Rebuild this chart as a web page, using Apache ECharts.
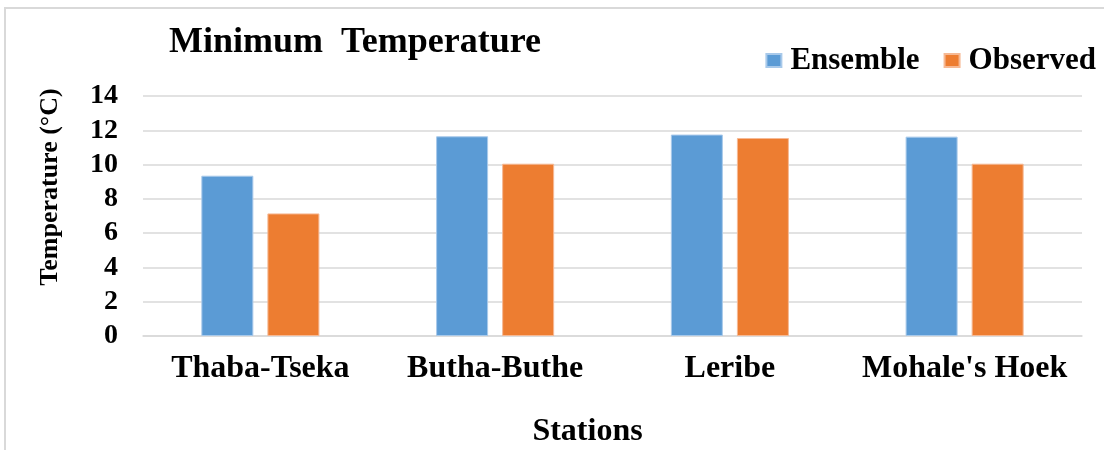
<!DOCTYPE html>
<html>
<head>
<meta charset="utf-8">
<script src="https://cdn.jsdelivr.net/npm/echarts@6/dist/echarts.min.js"></script>
<style>
html,body{margin:0;padding:0;background:#fff;}
#chart{width:1104px;height:450px;}
</style>
</head>
<body>
<div id="chart"></div>
<script>
const stations = ["Thaba-Tseka", "Butha-Buthe", "Leribe", "Mohale's Hoek"];
const ensemble = [9.35, 11.65, 11.75, 11.63];
const observed = [7.15, 10.05, 11.55, 10.05];
const yTicks = [0, 2, 4, 6, 8, 10, 12, 14];

const FONT = '"Liberation Serif", "Times New Roman", serif';
const chart = echarts.init(document.getElementById('chart'));
chart.setOption({
  animation: false,
  backgroundColor: '#ffffff',
  textStyle: { fontFamily: FONT },
  graphic: [{
    type: 'rect', silent: true, z: -1,
    shape: { x: 5, y: 8, width: 1300, height: 700 },
    style: { fill: 'none', stroke: '#d9d9d9', lineWidth: 2 }
  }],
  title: {
    text: 'Minimum  Temperature',
    left: 164, top: 20,
    textStyle: { fontFamily: FONT, fontWeight: 'bold', fontSize: 36, color: '#000' }
  },
  legend: {
    right: 3, top: 40,
    itemWidth: 15, itemHeight: 13, itemGap: 24,
    icon: 'rect',
    textStyle: { fontFamily: FONT, fontWeight: 'bold', fontSize: 31, color: '#000', padding: [0, 0, 0, 4] },
    data: ['Ensemble', 'Observed']
  },
  grid: { left: 143, right: 22, top: 96, bottom: 114, containLabel: false, outerBoundsMode: 'none' },
  xAxis: {
    type: 'category',
    data: stations,
    name: 'Stations',
    nameLocation: 'middle',
    nameGap: 80,
    nameTextStyle: { fontFamily: FONT, fontWeight: 'bold', fontSize: 32, color: '#000', padding: [0, 50, 0, 0] },
    axisLine: { show: true, lineStyle: { color: '#d9d9d9', width: 1.5 } },
    axisTick: { show: false },
    axisLabel: { interval: 0, hideOverlap: false, fontFamily: FONT, fontWeight: 'bold', fontSize: 32, color: '#000', margin: 17 }
  },
  yAxis: {
    type: 'value',
    min: yTicks[0], max: yTicks[yTicks.length - 1], interval: 2,
    name: 'Temperature (°C)',
    nameLocation: 'middle',
    nameGap: 80,
    nameRotate: 90,
    nameTextStyle: { fontFamily: FONT, fontWeight: 'bold', fontSize: 26, color: '#000', padding: [0, 0, 0, 58] },
    axisLine: { show: false },
    axisTick: { show: false },
    splitLine: { lineStyle: { color: '#d9d9d9', width: 1.5 } },
    axisLabel: { fontFamily: FONT, fontWeight: 'bold', fontSize: 28, color: '#000', margin: 25 }
  },
  series: [
    {
      name: 'Ensemble', type: 'bar', data: ensemble,
      barWidth: 52, barGap: '27%',
      itemStyle: { color: '#5b9bd5', borderColor: '#a8c9ea', borderWidth: 1 }
    },
    {
      name: 'Observed', type: 'bar', data: observed,
      barWidth: 52,
      itemStyle: { color: '#ed7d31', borderColor: '#f6b994', borderWidth: 1 }
    }
  ]
});
</script>
</body>
</html>
